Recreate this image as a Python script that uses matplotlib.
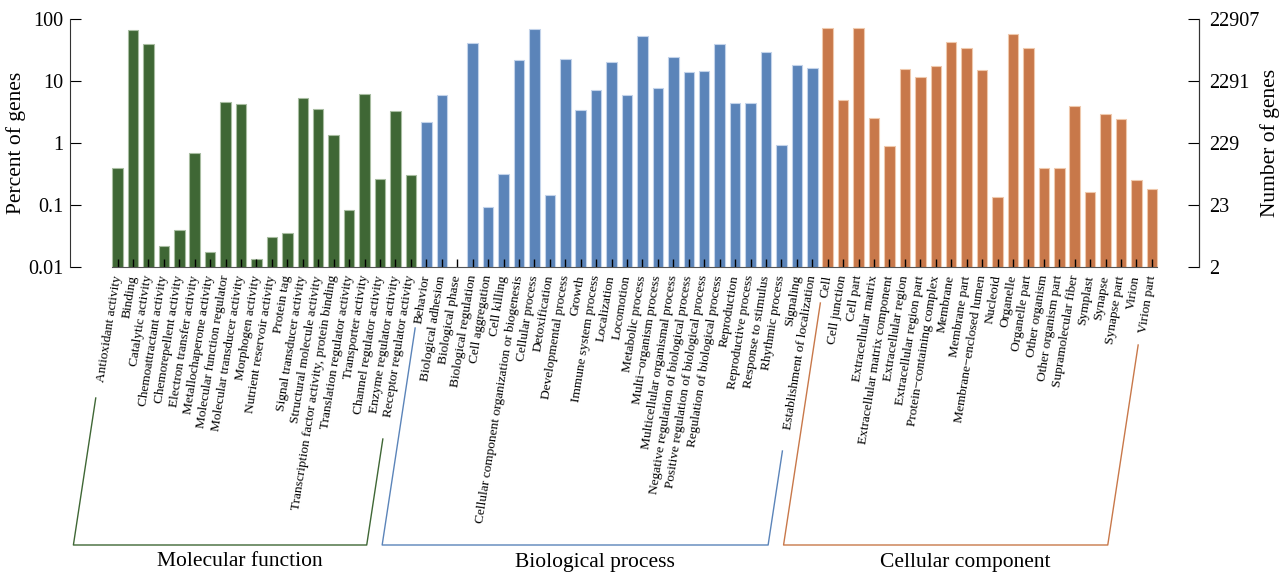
import numpy as np
import matplotlib.pyplot as plt
from matplotlib.lines import Line2D

plt.rcParams['font.family'] = ['Liberation Serif', 'DejaVu Serif']

# GO level-2 terms and share of annotated genes (%)
mf_terms = ["Antioxidant activity", "Binding", "Catalytic activity", "Chemoattractant activity",
            "Chemorepellent activity", "Electron transfer activity", "Metallochaperone activity",
            "Molecular function regulator", "Molecular transducer activity", "Morphogen activity",
            "Nutrient reservoir activity", "Protein tag", "Signal transducer activity",
            "Structural molecule activity", "Transcription factor activity, protein binding",
            "Translation regulator activity", "Transporter activity", "Channel regulator activity",
            "Enzyme regulator activity", "Receptor regulator activity"]
mf_pct = [0.40, 65.7, 39.0, 0.022, 0.040, 0.69, 0.0177, 4.53, 4.30, 0.0133,
          0.031, 0.035, 5.38, 3.53, 1.35, 0.084, 6.1, 0.26, 3.28, 0.30]

bp_terms = ["Behavior", "Biological adhesion", "Biological phase", "Biological regulation",
            "Cell aggregation", "Cell killing", "Cellular component organization or biogenesis",
            "Cellular process", "Detoxification", "Developmental process", "Growth",
            "Immune system process", "Localization", "Locomotion", "Metabolic process",
            "Multi\u2212organism process", "Multicellular organismal process",
            "Negative regulation of biological process", "Positive regulation of biological process",
            "Regulation of biological process", "Reproduction", "Reproductive process",
            "Response to stimulus", "Rhythmic process", "Signaling", "Establishment of localization"]
bp_pct = [2.18, 6.0, 0.0044, 41.5, 0.093, 0.32, 21.5, 68.2, 0.145, 22.4, 3.37,
          7.08, 20.2, 5.88, 53.2, 7.8, 24.4, 14.1, 14.7, 39.0, 4.47, 4.42,
          29.0, 0.92, 18.1, 16.2]

cc_terms = ["Cell", "Cell junction", "Cell part", "Extracellular matrix",
            "Extracellular matrix component", "Extracellular region", "Extracellular region part",
            "Protein\u2212containing complex", "Membrane", "Membrane part",
            "Membrane\u2212enclosed lumen", "Nucleoid", "Organelle", "Organelle part",
            "Other organism", "Other organism part", "Supramolecular fiber", "Symplast",
            "Synapse", "Synapse part", "Virion", "Virion part"]
cc_pct = [71.6, 4.88, 71.6, 2.53, 0.895, 15.8, 11.5, 17.3, 42.1, 33.6, 15.0,
          0.136, 57.3, 34.0, 0.40, 0.40, 3.91, 0.164, 2.97, 2.44, 0.25, 0.18]

group_names = ["Molecular function", "Biological process", "Cellular component"]
total_genes = 22907
decades = [0.01, 0.1, 1, 10, 100]

colors = ["#3f6735", "#5b84b9", "#c8784a"]
edges = ["#a8bda1", "#c3d3ea", "#efc9ad"]

W, H = 1284, 577
fig = plt.figure(figsize=(W / 100, H / 100), dpi=100)
ax = fig.add_axes([70 / W, 1 - 267 / H, 1129 / W, 248 / H])

groups = [mf_pct, bp_pct, cc_pct]
terms = mf_terms + bp_terms + cc_terms
values = np.array(mf_pct + bp_pct + cc_pct)
x = np.arange(len(values))
bar_col, bar_edge = [], []
for g, vals in enumerate(groups):
    bar_col += [colors[g]] * len(vals)
    bar_edge += [edges[g]] * len(vals)

ax.bar(x, values, width=0.68, color=bar_col, edgecolor=bar_edge, linewidth=0.8)
ax.set_yscale('log')
ax.set_ylim(decades[0], decades[-1])
ax.set_xlim(-3.08, 70.05)

ax.spines['top'].set_visible(False)
ax.spines['bottom'].set_bounds(-0.36, len(values) - 0.64)
ax.spines['bottom'].set_color('#555555')
for s in ['left', 'right']:
    ax.spines[s].set_color('#333333')

ax.set_yticks(decades)
ax.set_yticklabels(["0.01", "0.1", "1", "10", "100"])
ax.minorticks_off()
ax.tick_params(axis='y', direction='in', length=8, labelsize=14.5, pad=5)
ax.set_xticks(x)
ax.set_xticklabels(terms, rotation=81, ha='right', va='center',
                   rotation_mode='anchor', fontsize=9.6)
ax.tick_params(axis='x', direction='in', length=6, width=1, pad=6, color='black')
ax.set_ylabel("Percent of genes", fontsize=15.5, labelpad=1)

# right axis: same scale expressed as gene counts
ax2 = ax.twinx()
ax2.set_yscale('log')
ax2.set_ylim(decades[0] * total_genes / 100, decades[-1] * total_genes / 100)
gene_ticks = [d * total_genes / 100 for d in decades]
ax2.set_yticks(gene_ticks)
ax2.set_yticklabels([str(int(round(v))) for v in gene_ticks])
ax2.minorticks_off()
ax2.tick_params(axis='y', direction='in', length=8, labelsize=14.5, pad=7)
for s in ['top', 'bottom', 'left']:
    ax2.spines[s].set_visible(False)
ax2.spines['right'].set_color('#333333')
ax2.set_ylabel("Number of genes", fontsize=15.5, labelpad=1)

# group brackets under the term labels
def px_x(idx):
    return ax.transData.transform((idx, 1.0))[0]

bracket_tops = [(398, 439), (328, 451), (303, 345)]
bottom_px, slope = 545, 0.152
start = 0
for g, vals in enumerate(groups):
    end = start + len(vals) - 1
    xl, xr = px_x(start - 2.86), px_x(end - 2.86)
    tl, tr = bracket_tops[g]
    xs = [xl + slope * (bottom_px - tl), xl, xr, xr + slope * (bottom_px - tr)]
    ys = [tl, bottom_px, bottom_px, tr]
    fig.add_artist(Line2D([v / W for v in xs], [1 - v / H for v in ys],
                          color=colors[g], lw=1.0, transform=fig.transFigure))
    fig.text((xl + xr) / 2 / W + 20 / W, 1 - 562 / H, group_names[g],
             ha='center', va='center', fontsize=15.5)
    start = end + 1

fig.savefig("out.png", dpi=100)
